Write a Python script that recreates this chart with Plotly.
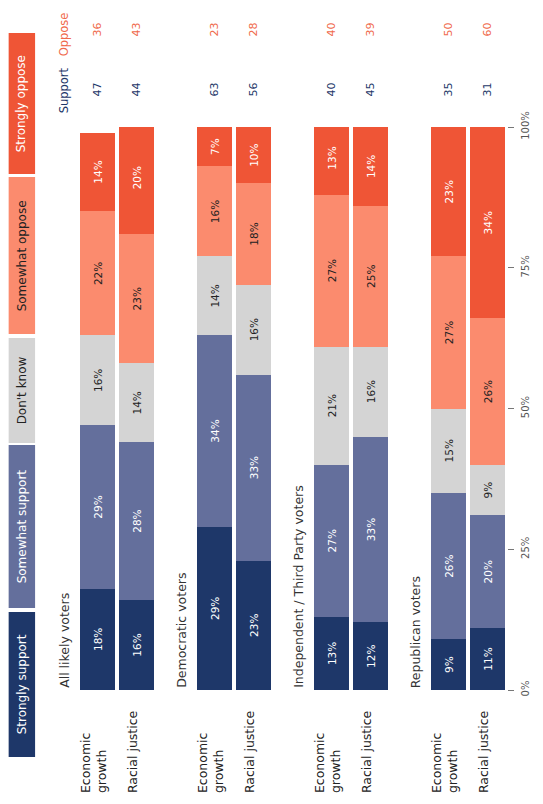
import plotly.graph_objects as go

# ---------------- data ----------------
groups = ["All likely voters", "Democratic voters", "Independent / Third Party voters", "Republican voters"]
issues = ["Economic<br>growth", "Racial justice"]
series_names = ["Strongly support", "Somewhat support", "Don't know", "Somewhat oppose", "Strongly oppose"]

strongly_support = [18, 16, 29, 23, 13, 12, 9, 11]
somewhat_support = [29, 28, 34, 33, 27, 33, 26, 20]
dont_know        = [16, 14, 14, 16, 21, 16, 15, 9]
somewhat_oppose  = [22, 23, 16, 18, 27, 25, 27, 26]
strongly_oppose  = [14, 20, 7, 10, 13, 14, 23, 34]

support_totals = [47, 44, 63, 56, 40, 45, 35, 31]
oppose_totals  = [36, 43, 23, 28, 40, 39, 50, 60]

axis_ticks = [0, 25, 50, 75, 100]
axis_tick_labels = ["0%", "25%", "50%", "75%", "100%"]

# ---------------- style ----------------
colors = ["#1e3769", "#646f9c", "#d4d4d4", "#fb8b6e", "#ef5536"]
text_colors = ["white", "white", "#222222", "#222222", "white"]
FONT = "DejaVu Sans"
OFF = 8  # page body margin
W, H = 543 - OFF, 804 - OFF
# plot area in page pixels: x 39..517, y 127..690
ML, MR, MT, MB = 39 - OFF, 543 - 517, 127 - OFF, 804 - 690
PW, PH = W - ML - MR, H - MT - MB

def pxx(px):
    return (px - OFF - ML) / PW

def pxy(py):
    return (H - MB - (py - OFF)) / PH

# slot positions: one blank slot before each group, then one slot per issue
n_issue = len(issues)
xpos, group_slot = [], []
for gi, g in enumerate(groups):
    base = gi * (n_issue + 1)
    group_slot.append(base)
    for ci in range(n_issue):
        xpos.append(base + 1 + ci)
issue_labels = [issues[i % n_issue] for i in range(len(xpos))]

fig = go.Figure()
all_series = [strongly_support, somewhat_support, dont_know, somewhat_oppose, strongly_oppose]
for name, vals, col, tcol in zip(series_names, all_series, colors, text_colors):
    fig.add_trace(go.Bar(
        x=xpos, y=vals, name=name,
        marker=dict(color=col, line=dict(width=0)),
        text=[f"{v}%" for v in vals], texttemplate="%{text}",
        textposition="inside", insidetextanchor="middle", textangle=-90,
        textfont=dict(family=FONT, size=10.5, color=tcol),
        hoverinfo="skip", showlegend=False,
    ))

annotations = []
# group labels
for gs, g in zip(group_slot, groups):
    annotations.append(dict(x=gs + 0.15, y=0, xref="x", yref="y", text=g, showarrow=False,
                            textangle=-90, xanchor="center", yanchor="bottom",
                            font=dict(family=FONT, size=12.5, color="#333333")))
# issue labels
for x, lab in zip(xpos, issue_labels):
    annotations.append(dict(x=x - 0.1, y=pxy(795), xref="x", yref="paper", text=lab, showarrow=False,
                            textangle=-90, xanchor="center", yanchor="bottom", align="left",
                            font=dict(family=FONT, size=12.5, color="#222222")))
# support / oppose totals
for x, s, o in zip(xpos, support_totals, oppose_totals):
    annotations.append(dict(x=x, y=pxy(90), xref="x", yref="paper", text=str(s), showarrow=False,
                            textangle=-90, xanchor="center", yanchor="middle",
                            font=dict(family=FONT, size=11, color="#1e3769")))
    annotations.append(dict(x=x, y=pxy(30), xref="x", yref="paper", text=str(o), showarrow=False,
                            textangle=-90, xanchor="center", yanchor="middle",
                            font=dict(family=FONT, size=11, color="#f06a4c")))
annotations.append(dict(x=0.15, y=pxy(90), xref="x", yref="paper", text="Support", showarrow=False,
                        textangle=-90, xanchor="center", yanchor="middle",
                        font=dict(family=FONT, size=11.5, color="#1e3769")))
annotations.append(dict(x=0.15, y=pxy(34), xref="x", yref="paper", text="Oppose", showarrow=False,
                        textangle=-90, xanchor="center", yanchor="middle",
                        font=dict(family=FONT, size=11.5, color="#f06a4c")))

# legend (rotated, drawn manually)
legend_spans = [(612, 757), (445, 608), (338, 443), (177, 334), (33, 174)]
shapes = []
for (y0, y1), name, col, tcol in zip(legend_spans, series_names, colors, text_colors):
    shapes.append(dict(type="rect", xref="paper", yref="paper",
                       x0=pxx(8), x1=pxx(35), y0=pxy(y1), y1=pxy(y0),
                       fillcolor=col, line=dict(width=0), layer="above"))
    annotations.append(dict(x=pxx(21.5), y=pxy((y0 + y1) / 2), xref="paper", yref="paper",
                            text=name, showarrow=False, textangle=-90,
                            xanchor="center", yanchor="middle",
                            font=dict(family=FONT, size=12, color=tcol)))

fig.update_layout(
    width=W, height=H, barmode="stack", bargap=0.1,
    margin=dict(l=ML, r=MR, t=MT, b=MB),
    paper_bgcolor="white", plot_bgcolor="white",
    font=dict(family=FONT),
    xaxis=dict(range=[-0.5, len(groups) * (n_issue + 1) - 0.5], showticklabels=False,
               showgrid=False, zeroline=False, showline=False, ticks=""),
    yaxis=dict(range=[0, 100], side="right", tickvals=axis_ticks, ticktext=axis_tick_labels,
               tickangle=-90, ticks="outside", ticklen=6, tickcolor="#777777",
               ticklabelstandoff=3,
               showgrid=False, zeroline=False, showline=False,
               tickfont=dict(family=FONT, size=10, color="#555555")),
    annotations=annotations, shapes=shapes,
)

fig.write_html("out.html")
